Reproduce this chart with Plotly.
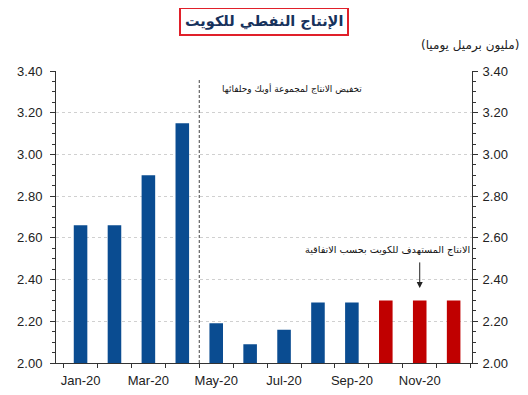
import plotly.graph_objects as go

months = ["Jan-20", "Feb-20", "Mar-20", "Apr-20", "May-20", "Jun-20",
          "Jul-20", "Aug-20", "Sep-20", "Oct-20", "Nov-20", "Dec-20"]
production = [2.66, 2.66, 2.90, 3.15, 2.19, 2.09, 2.16, 2.29, 2.29, 2.30, 2.30, 2.30]
is_target = [False] * 9 + [True] * 3
tick_labels = [m if i % 2 == 0 else "" for i, m in enumerate(months)]

title_text = "الإنتاج النفطي للكويت"
unit_text = "(مليون برميل يوميا)"
cut_text = "تخفيض الانتاج لمجموعة أوبك وحلفائها"
target_text = "الانتاج المستهدف للكويت بحسب الاتفاقية"

BLUE = "#0a4c91"
RED = "#c00000"
colors = [RED if t else BLUE for t in is_target]

fig = go.Figure()
fig.add_trace(go.Bar(x=months, y=production, marker=dict(color=colors, line=dict(width=0)),
                     width=0.4, showlegend=False, hoverinfo="x+y"))

yax_common = dict(range=[2.0, 3.4], dtick=0.2, tickformat=".2f", ticks="outside",
                  ticklen=5, tickcolor="#333", showline=True, linecolor="#333", linewidth=1,
                  tickfont=dict(family="Liberation Sans, Arial", size=13, color="#222"),
                  minor=dict(dtick=0.05, ticks="outside", ticklen=3, tickcolor="#333", showgrid=False),
                  zeroline=False, automargin=False)

# page body has an 8px margin, so the figure is sized to fill the rest of the window
fig.update_layout(
    width=520, height=387,
    margin=dict(l=48, r=56, t=63, b=32),
    plot_bgcolor="white", paper_bgcolor="white",
    xaxis=dict(type="category", tickmode="array", tickvals=months, ticktext=tick_labels,
               tickson="boundaries", ticks="outside", ticklen=4, tickcolor="#333",
               tickangle=0, automargin=False, ticklabelstandoff=5,
               showline=True, linecolor="#333", linewidth=1, showgrid=False,
               tickfont=dict(family="Liberation Sans, Arial", size=13, color="#222")),
    yaxis=dict(**yax_common, showgrid=True, gridcolor="#d0d0d0", griddash="dot", gridwidth=1,
               ticklabelstandoff=5),
    yaxis2=dict(**yax_common, overlaying="y", side="right", showgrid=False, ticklabelstandoff=2),
    bargap=0.6,
)

fig.add_trace(go.Scatter(x=[months[0]], y=[2.0], yaxis="y2", mode="markers",
                         marker=dict(opacity=0), showlegend=False, hoverinfo="skip"))

# dashed divider between Apr and May
fig.add_shape(type="line", xref="x", yref="y", x0=3.5, x1=3.5, y0=2.0, y1=3.36,
              line=dict(color="#444", width=1, dash="3px,2px"))

arabic_font = "DejaVu Sans, Noto Sans, sans-serif"
fig.add_annotation(text="<b>" + title_text + "</b>", xref="paper", yref="paper",
                   x=0.5, y=1, xanchor="center", yanchor="top", yshift=64, showarrow=False,
                   font=dict(family=arabic_font, size=14.5, color="#17325c"),
                   bordercolor="#e0202a", borderwidth=2, borderpad=4, bgcolor="white")
fig.add_annotation(text=unit_text, xref="paper", yref="paper", x=1, y=1, xanchor="right",
                   yanchor="bottom", xshift=49, yshift=16, showarrow=False,
                   font=dict(family=arabic_font, size=12, color="#222"))
fig.add_annotation(text=cut_text, xref="x", yref="y", x=6.22, y=3.315, showarrow=False,
                   xanchor="center", yanchor="middle",
                   font=dict(family=arabic_font, size=9, color="#111"))
fig.add_annotation(text=target_text, xref="x", yref="y", x=9.05, y=2.54, showarrow=False,
                   xanchor="center", yanchor="middle",
                   font=dict(family=arabic_font, size=9.7, color="#111"))
fig.add_annotation(text="", xref="x", yref="y", x=months[10], y=2.36, ax=0, ay=-27,
                   showarrow=True, arrowhead=2, arrowsize=1.2, arrowwidth=1, arrowcolor="#222")

fig.write_html("out.html")
